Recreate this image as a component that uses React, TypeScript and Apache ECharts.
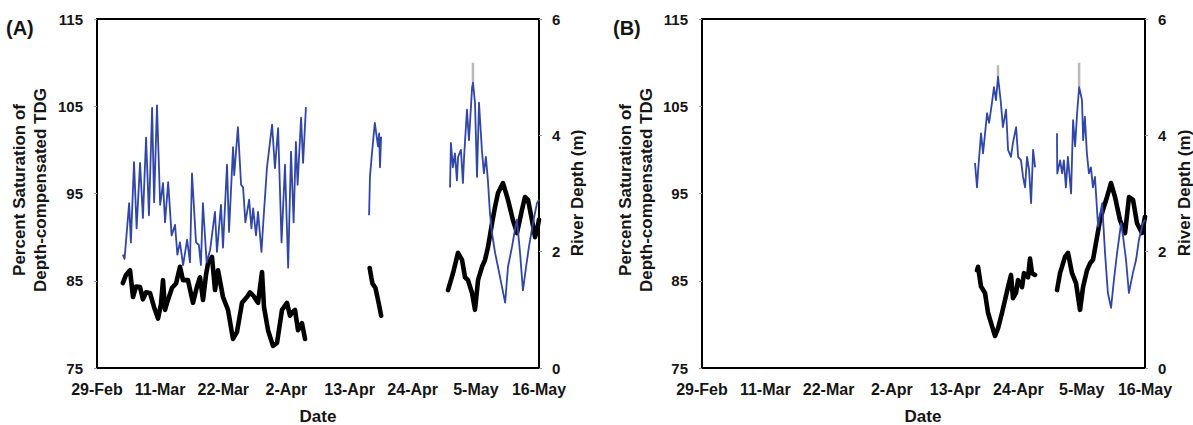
import React, { useEffect, useRef } from "react";
import * as echarts from "echarts";

// x values are days since 29-Feb; ticks every 11 days
const dateTicks = ["29-Feb", "11-Mar", "22-Mar", "2-Apr", "13-Apr", "24-Apr", "5-May", "16-May"];
const dayStep = 11;
const dayMax = 77;

// ---- Panel A: TDG percent saturation, [day, %] ----
const tdgA1 = [
  [4.5, 88.0], [4.8, 87.5], [5.6, 93.9], [5.9, 89.4], [6.45, 98.6], [6.9, 91.0], [7.5, 98.5], [8.0, 92.2],
  [8.55, 101.4], [9.05, 92.5], [9.6, 104.8], [9.95, 94.0], [10.45, 105.1], [11.0, 93.7], [11.5, 96.2],
  [11.85, 91.7], [12.4, 96.3], [13.0, 90.2], [13.6, 91.4], [14.0, 88.0], [14.45, 89.4], [15.0, 86.8],
  [15.7, 89.7], [16.2, 87.1], [16.55, 97.3], [17.25, 89.4], [17.75, 89.1], [18.1, 86.8], [18.45, 93.9],
  [19.1, 87.1], [19.7, 88.5], [20.55, 92.9], [20.9, 88.3], [21.6, 93.7], [21.95, 88.8], [22.65, 98.3],
  [23.0, 90.6], [23.7, 100.3], [23.9, 97.1], [24.55, 102.6], [25.1, 96.0], [25.45, 95.7], [25.85, 91.7],
  [26.5, 94.3], [26.9, 91.0], [27.2, 93.3], [27.7, 90.2], [28.05, 92.9], [28.65, 88.3], [28.9, 91.0],
  [29.6, 97.9], [30.5, 102.9], [31.0, 97.9], [31.55, 102.5], [32.15, 89.4], [32.75, 98.3], [33.3, 86.5],
  [33.8, 99.8], [34.25, 91.7], [34.65, 100.9], [34.95, 96.0], [35.55, 103.7], [35.9, 98.5], [36.4, 104.9],
];
const tdgA2 = [
  [47.4, 92.5], [47.55, 96.9], [47.9, 99.6], [48.4, 103.1], [48.95, 100.4], [49.15, 101.9], [49.3, 98.0], [49.5, 101.5],
];
const tdgA3 = [
  [61.5, 95.7], [61.65, 100.8], [62.0, 98.0], [62.35, 99.6], [62.7, 96.5], [62.9, 99.2], [63.4, 100.0],
  [63.75, 96.2], [63.95, 99.2], [64.45, 104.6], [64.8, 101.1], [65.35, 107.2], [65.5, 107.7], [65.85, 105.4],
  [66.2, 96.9], [66.55, 105.4], [67.05, 100.0], [67.4, 97.3], [67.75, 99.2], [68.1, 96.5], [68.45, 92.8],
  [68.8, 90.5], [69.35, 88.2], [69.85, 86.6], [70.55, 84.3], [71.1, 82.5], [71.6, 86.6], [72.3, 88.9],
  [72.8, 90.8], [73.15, 92.0], [73.7, 88.2], [74.2, 83.9], [74.75, 86.6], [75.25, 88.9], [75.95, 91.6],
  [76.65, 93.9], [77, 94.3],
];

// ---- Panel A: river depth, [day, m] ----
const depthA1 = [
  [4.5, 1.46], [5.05, 1.6], [5.75, 1.68], [6.27, 1.22], [6.79, 1.4], [7.49, 1.39], [8.01, 1.18], [8.54, 1.3],
  [9.23, 1.29], [9.93, 1.05], [10.63, 0.85], [11.15, 1.1], [11.5, 1.51], [11.85, 1.0], [12.2, 1.12],
  [13.07, 1.38], [13.76, 1.45], [14.46, 1.74], [14.98, 1.51], [15.85, 1.51], [16.72, 1.12], [17.42, 1.4],
  [17.94, 1.56], [18.47, 1.17], [18.99, 1.6], [19.34, 1.8], [20.03, 1.91], [20.56, 1.34], [21.08, 1.68],
  [21.95, 1.22], [22.82, 1.0], [23.69, 0.5], [24.39, 0.62], [25.26, 1.12], [26.13, 1.22], [26.66, 1.3],
  [27.18, 1.25], [28.05, 1.12], [28.75, 1.65], [29.09, 1.05], [29.79, 0.65], [30.66, 0.38], [31.36, 0.43],
  [32.23, 1.0], [33.1, 1.12], [33.62, 0.9], [33.97, 0.95], [34.49, 1.0], [35.02, 0.65], [35.71, 0.77], [36.24, 0.5],
];
const depthA2 = [[47.5, 1.72], [47.8, 1.55], [48.0, 1.45], [48.5, 1.38], [49.0, 1.15], [49.5, 0.9]];
const depthA3 = [
  [61.15, 1.34], [62.02, 1.63], [62.89, 1.98], [63.59, 1.86], [64.11, 1.56], [64.63, 1.51], [65.33, 1.29],
  [65.85, 1.0], [66.38, 1.51], [67.07, 1.74], [67.6, 1.86], [68.12, 2.08], [68.82, 2.49], [69.34, 2.77],
  [69.86, 3.01], [70.73, 3.18], [71.6, 2.89], [72.47, 2.54], [73.17, 2.32], [74.04, 2.72], [74.56, 2.94],
  [75.09, 2.89], [75.78, 2.54], [76.31, 2.25], [76.66, 2.37], [77, 2.55],
];

// ---- Panel B: TDG percent saturation ----
const tdgB1 = [
  [47.45, 98.5], [47.8, 95.7], [48.0, 97.7], [48.5, 101.9], [48.85, 99.6], [49.55, 104.2], [49.9, 103.1],
  [50.4, 105.4], [50.75, 107.2], [51.1, 105.7], [51.45, 108.4], [51.95, 105.4], [52.3, 102.6], [52.85, 104.6],
  [53.2, 100.0], [53.7, 99.2], [54.05, 100.8], [54.6, 102.6], [54.95, 99.2], [55.45, 98.8], [55.8, 96.9],
  [56.15, 95.7], [56.5, 99.2], [56.85, 97.7], [57.2, 93.9], [57.55, 100.0], [57.9, 98.0],
];
const tdgB2 = [
  [61.7, 101.9], [61.75, 97.3], [62.25, 98.8], [62.6, 97.3], [62.9, 98.8], [63.25, 95.7], [63.6, 99.2],
  [64.15, 95.0], [64.5, 103.4], [64.85, 100.4], [65.2, 104.2], [65.55, 107.2], [66.05, 105.7], [66.25, 101.1],
  [66.55, 103.8], [66.9, 99.6], [67.25, 97.3], [67.6, 98.0], [67.95, 95.7], [68.3, 96.9], [68.85, 91.2],
  [69.55, 93.9], [70.05, 88.2], [70.55, 83.6], [71.1, 81.9], [71.6, 85.1], [72.15, 88.2], [72.85, 91.6],
  [73.2, 90.0], [73.7, 87.4], [74.2, 83.6], [74.9, 85.9], [75.45, 87.4], [75.95, 89.7], [76.65, 91.6], [77, 92.0],
];

// ---- Panel B: river depth ----
const depthB1 = [
  [47.8, 1.68], [47.98, 1.74], [48.5, 1.4], [49.19, 1.29], [49.71, 0.95], [50.41, 0.72], [50.93, 0.55],
  [51.45, 0.68], [52.15, 0.95], [52.67, 1.17], [53.19, 1.39], [53.71, 1.6], [54.06, 1.2], [54.58, 1.29],
  [54.93, 1.51], [55.62, 1.39], [55.97, 1.63], [56.67, 1.56], [57.01, 1.88], [57.36, 1.63], [57.88, 1.6],
];
const depthB2 = [
  [61.71, 1.34], [62.23, 1.63], [63.1, 1.91], [63.62, 1.98], [64.31, 1.63], [65.01, 1.46], [65.71, 1.0],
  [66.23, 1.39], [66.92, 1.68], [67.45, 1.8], [67.96, 1.86], [68.66, 2.25], [69.18, 2.54], [69.7, 2.72],
  [70.4, 2.94], [71.09, 3.18], [71.79, 2.94], [72.66, 2.54], [73.53, 2.32], [74.22, 2.94], [74.92, 2.89],
  [75.61, 2.49], [76.48, 2.32], [77, 2.6],
];

// short grey range marks above the highest TDG readings
const spreadA = [[[65.5, 107.7], [65.5, 110.0]]];
const spreadB = [[[51.45, 108.4], [51.45, 109.7]], [[65.55, 107.2], [65.55, 110.0]]];

const BLUE = "#3046a8";
const TEXT = "#151515";
const FONT = "'Liberation Sans', Arial, sans-serif";

// join separate runs of readings with a break so the line is not bridged over gaps
function joinRuns(runs: number[][][]) {
  const out: (number | string)[][] = [];
  runs.forEach((run, i) => {
    if (i > 0) out.push([run[0][0] - 0.01, "-"]);
    run.forEach((p) => out.push(p));
  });
  return out;
}

export default function App() {
  const ref = useRef<HTMLDivElement>(null);

  useEffect(() => {
    document.body.style.margin = "0";
    if (!ref.current) return;
    const chart = echarts.init(ref.current, null, { renderer: "svg" });

    const panels = [
      { left: 97, width: 442, tdg: [tdgA1, tdgA2, tdgA3], depth: [depthA1, depthA2, depthA3], spread: spreadA },
      { left: 702, width: 443, tdg: [tdgB1, tdgB2], depth: [depthB1, depthB2], spread: spreadB },
    ];
    const top = 19;
    const height = 349;

    const tickLabel = { fontFamily: FONT, fontWeight: "bold" as const, fontSize: 15, color: TEXT };

    const grid: any[] = [];
    const xAxis: any[] = [];
    const yAxis: any[] = [];
    const series: any[] = [];

    panels.forEach((p, i) => {
      grid.push({
        left: p.left, top, width: p.width, height,
        show: true, borderColor: "#000", borderWidth: 2, backgroundColor: "transparent",
      });
      xAxis.push({
        type: "value", gridIndex: i, min: 0, max: dayMax, interval: dayStep,
        axisLine: { show: false }, axisTick: { show: false }, splitLine: { show: false },
        axisLabel: {
          ...tickLabel, fontSize: 16, margin: 13, showMinLabel: true, showMaxLabel: true,
          formatter: (v: number) => dateTicks[Math.round(v / dayStep)] ?? "",
        },
      });
      yAxis.push({
        type: "value", gridIndex: i, min: 75, max: 115, interval: 10, position: "left",
        axisLine: { show: false }, splitLine: { show: false },
        axisTick: { show: true, length: 3, lineStyle: { color: "#999" } },
        axisLabel: { ...tickLabel, margin: 14 },
      });
      yAxis.push({
        type: "value", gridIndex: i, min: 0, max: 6, interval: 2, position: "right",
        axisLine: { show: false }, splitLine: { show: false },
        axisTick: { show: true, length: 3, lineStyle: { color: "#999" } },
        axisLabel: { ...tickLabel, margin: 13 },
      });

      series.push({
        type: "line", name: "River depth", xAxisIndex: i, yAxisIndex: i * 2 + 1,
        data: joinRuns(p.depth), showSymbol: false, connectNulls: false, z: 2,
        lineStyle: { color: "#000", width: 4.6, join: "round", cap: "round" },
      });
      p.spread.forEach((s) => {
        series.push({
          type: "line", xAxisIndex: i, yAxisIndex: i * 2, data: s, showSymbol: false, z: 2,
          lineStyle: { color: "#8a8a8a", width: 2.5, opacity: 0.6 },
        });
      });
      series.push({
        type: "line", name: "TDG", xAxisIndex: i, yAxisIndex: i * 2,
        data: joinRuns(p.tdg), showSymbol: false, connectNulls: false, z: 3,
        lineStyle: { color: BLUE, width: 1.8, join: "round" },
      });
    });

    const titleFont = `bold 17px ${FONT}`;
    const graphic: any[] = [];
    const addPanelText = (tag: string, tagX: number, leftTitleX: number, rightTitleX: number, dateX: number) => {
      graphic.push({
        type: "text", x: tagX, y: 28,
        style: { text: tag, font: `bold 20px ${FONT}`, fill: TEXT, align: "left", verticalAlign: "middle" },
      });
      graphic.push({
        type: "text", x: leftTitleX, y: 190, rotation: Math.PI / 2,
        style: {
          text: "Percent Saturation of\nDepth-compensated TDG", font: titleFont, fill: TEXT,
          align: "center", verticalAlign: "middle", lineHeight: 21,
        },
      });
      graphic.push({
        type: "text", x: rightTitleX, y: 193, rotation: Math.PI / 2,
        style: { text: "River Depth (m)", font: titleFont, fill: TEXT, align: "center", verticalAlign: "middle" },
      });
      graphic.push({
        type: "text", x: dateX, y: 416,
        style: { text: "Date", font: titleFont, fill: TEXT, align: "center", verticalAlign: "middle" },
      });
    };
    addPanelText("(A)", 6, 30, 577, 318);
    addPanelText("(B)", 613, 636, 1184, 923);

    chart.setOption({
      animation: false,
      backgroundColor: "#fff",
      grid, xAxis, yAxis, series, graphic,
    });

    return () => chart.dispose();
  }, []);

  return <div ref={ref} style={{ width: 1193, height: 425 }} />;
}
